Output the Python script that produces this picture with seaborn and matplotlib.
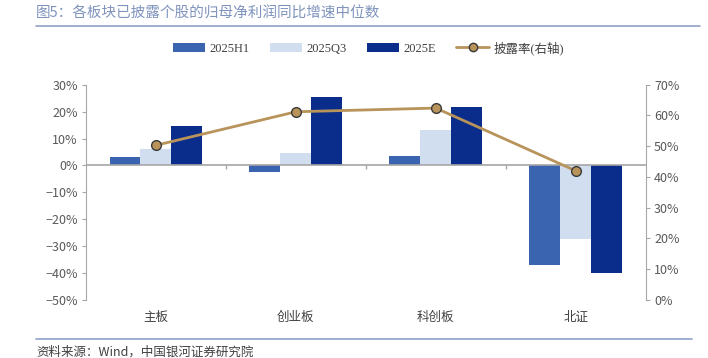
import numpy as np
import pandas as pd
import matplotlib
matplotlib.use("Agg")
import matplotlib.pyplot as plt
import seaborn as sns
from matplotlib.lines import Line2D
from matplotlib.patches import Patch
from matplotlib.ticker import PercentFormatter

sns.set_style("white")
plt.rcParams["font.family"] = ["Noto Sans CJK SC", "DejaVu Sans"]

# ---- data ----
boards = ["主板", "创业板", "科创板", "北证"]
series_names = ["2025H1", "2025Q3", "2025E"]
h1 = [3.1, -2.6, 3.6, -37.0]
q3 = [6.2, 4.6, 13.3, -27.4]
e25 = [14.6, 25.5, 21.9, -40.0]
disclosure = [50.3, 61.2, 62.4, 42.0]  # 披露率(右轴)

colors = ["#3A64AF", "#D0DEF0", "#0A2D8C"]
line_color = "#B8935A"
grey = "#595959"

df = pd.DataFrame({
    "板块": boards * 3,
    "系列": np.repeat(series_names, len(boards)),
    "增速": h1 + q3 + e25,
})

fig = plt.figure(figsize=(7.08, 3.58), dpi=100)
ax = fig.add_axes([0.1215, 0.162, 0.7905, 0.6014])

sns.barplot(data=df, x="板块", y="增速", hue="系列", order=boards,
            hue_order=series_names, palette=colors, width=0.664,
            linewidth=0, saturation=1, legend=False, ax=ax)

ax.set_ylim(-50, 30)
ax.set_yticks(np.arange(-50, 31, 10))
ax.yaxis.set_major_formatter(PercentFormatter(decimals=0))
ax.set_xlim(-0.5, len(boards) - 0.5)
ax.set_xlabel("")
ax.set_ylabel("")

# zero line with small separators between groups
ax.axhline(0, color="#A6A6A6", lw=1.2, zorder=1)
sep = np.arange(len(boards) - 1) + 0.5
ax.vlines(sep, -1.3, 0, color="#A6A6A6", lw=1)

for s in ["top", "bottom", "right"]:
    ax.spines[s].set_visible(False)
ax.spines["left"].set_color("#A6A6A6")
ax.tick_params(axis="y", direction="out", length=3, color="#A6A6A6",
               labelsize=9, labelcolor=grey, pad=3)
ax.tick_params(axis="x", length=0, labelsize=9, labelcolor="#404040", pad=8)

# right axis: disclosure rate
ax2 = ax.twinx()
sns.lineplot(x=np.arange(len(boards)), y=disclosure, ax=ax2, color=line_color,
             lw=2, marker="o", markersize=7, markerfacecolor=line_color,
             markeredgecolor="#3A3A3A", markeredgewidth=1, zorder=5)
ax2.set_ylim(0, 70)
ax2.set_yticks(np.arange(0, 71, 10))
ax2.yaxis.set_major_formatter(PercentFormatter(decimals=0))
for s in ["top", "bottom", "left"]:
    ax2.spines[s].set_visible(False)
ax2.spines["right"].set_color("#A6A6A6")
ax2.tick_params(axis="y", direction="out", length=3, color="#A6A6A6",
                labelsize=9, labelcolor=grey, pad=3)
ax2.set_ylabel("")

# legend
handles = [Patch(facecolor=c, edgecolor="none") for c in colors]
handles.append(Line2D([0], [0], color=line_color, lw=2, marker="o", markersize=6,
                      markerfacecolor=line_color, markeredgecolor="#3A3A3A"))
labels = series_names + ["披露率(右轴)"]
leg = fig.legend(handles, labels, loc="center", bbox_to_anchor=(0.52, 0.866),
                 ncol=4, frameon=False, handlelength=2.6,
                 handleheight=0.7, columnspacing=1.6, handletextpad=0.35,
                 prop={"family": ["Liberation Serif", "Noto Sans CJK SC"], "size": 9})
for t in leg.get_texts():
    t.set_color("#404040")

# title, rules and source
fig.text(0.051, 0.962, "图5：各板块已披露个股的归母净利润同比增速中位数",
         fontsize=10.5, color="#7F93BD", va="center", ha="left")
fig.add_artist(Line2D([0.051, 0.988], [0.928, 0.928], color="#8FA1C8", lw=1.2))
fig.add_artist(Line2D([0.051, 0.977], [0.054, 0.054], color="#8FA1C8", lw=1.2))
fig.text(0.051, 0.017, "资料来源：Wind，中国银河证券研究院", fontsize=9,
         color="#404040", va="center", ha="left")

fig.savefig("out.png", dpi=100)
